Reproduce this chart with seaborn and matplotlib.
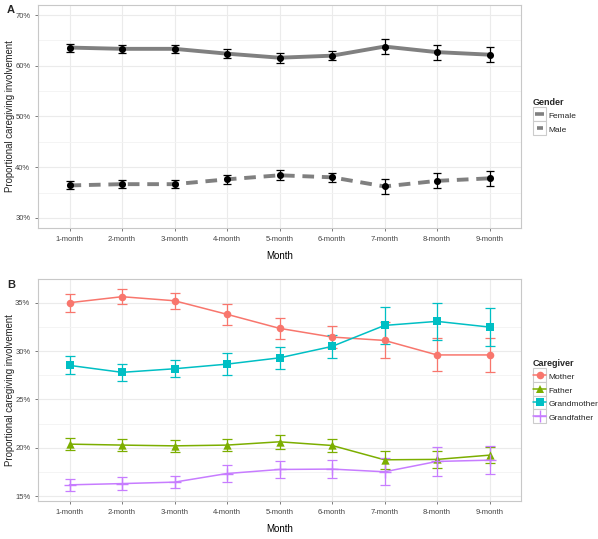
import numpy as np
import pandas as pd
import matplotlib
matplotlib.use("Agg")
import matplotlib.pyplot as plt
import seaborn as sns
from matplotlib.lines import Line2D
from matplotlib.patches import Rectangle
from matplotlib.legend_handler import HandlerLine2D
from matplotlib.ticker import MultipleLocator, FuncFormatter

months = ["1-month", "2-month", "3-month", "4-month", "5-month",
          "6-month", "7-month", "8-month", "9-month"]

female = [63.6, 63.35, 63.35, 62.4, 61.6, 62.0, 63.8, 62.7, 62.2]
female_err = [0.8, 0.85, 0.85, 0.9, 0.95, 0.95, 1.5, 1.5, 1.45]
male = [36.4, 36.65, 36.65, 37.6, 38.4, 38.0, 36.2, 37.3, 37.8]
male_err = [0.8, 0.85, 0.85, 0.9, 0.95, 0.95, 1.5, 1.5, 1.45]

mother = [35.0, 35.62, 35.2, 33.8, 32.35, 31.45, 31.1, 29.6, 29.6]
mother_err = [0.93, 0.8, 0.85, 1.1, 1.07, 1.1, 1.86, 1.7, 1.78]
father = [20.38, 20.28, 20.2, 20.28, 20.62, 20.24, 18.76, 18.8, 19.24]
father_err = [0.6, 0.65, 0.62, 0.65, 0.72, 0.7, 0.93, 0.91, 0.85]
grandmother = [28.52, 27.8, 28.17, 28.65, 29.3, 30.48, 32.65, 33.07, 32.48]
grandmother_err = [0.93, 0.9, 0.9, 1.1, 1.15, 1.17, 1.9, 1.9, 1.93]
grandfather = [16.17, 16.3, 16.45, 17.34, 17.76, 17.8, 17.52, 18.59, 18.72]
grandfather_err = [0.64, 0.64, 0.65, 0.85, 0.85, 0.91, 1.38, 1.48, 1.45]

genders = ["Female", "Male"]
caregivers = ["Mother", "Father", "Grandmother", "Grandfather"]

pos = np.arange(1, len(months) + 1)

dfA = pd.concat([
    pd.DataFrame({"pos": pos, "Month": months, "value": v, "err": e, "Gender": g})
    for g, v, e in zip(genders, [female, male], [female_err, male_err])
], ignore_index=True)

dfB = pd.concat([
    pd.DataFrame({"pos": pos, "Month": months, "value": v, "err": e, "Caregiver": c})
    for c, v, e in zip(caregivers, [mother, father, grandmother, grandfather],
                       [mother_err, father_err, grandmother_err, grandfather_err])
], ignore_index=True)

sns.set_theme(style="white")
plt.rcParams['font.family'] = ['Liberation Sans', 'DejaVu Sans']

fig = plt.figure(figsize=(5.98, 5.39), dpi=100)
W, H = 598, 539

def px_axes(l, t, r, b):
    return fig.add_axes([l / W, 1 - b / H, (r - l) / W, (b - t) / H])

axA = px_axes(38, 5, 521, 228)
axB = px_axes(38, 279, 521, 501)

def style_ax(ax, ylim, major, minor):
    ax.set_facecolor("white")
    ax.set_xlim(0.4, 9.6)
    ax.set_ylim(*ylim)
    ax.set_xticks(pos)
    ax.set_xticklabels(months)
    ax.yaxis.set_major_locator(MultipleLocator(major))
    ax.yaxis.set_minor_locator(MultipleLocator(minor))
    ax.yaxis.set_major_formatter(FuncFormatter(lambda v, p: f"{v:.0f}%"))
    ax.grid(True, which="major", color="#EBEBEB", lw=0.8)
    ax.grid(True, which="minor", axis="y", color="#F3F3F3", lw=0.6)
    ax.set_axisbelow(True)
    for s in ax.spines.values():
        s.set_color("#C8C8C8")
        s.set_linewidth(0.8)
    ax.tick_params(axis="both", which="major", length=2.5, width=0.6,
                   color="#666666", labelsize=5.5, labelcolor="#444444", pad=3,
                   bottom=True, left=True)
    ax.tick_params(axis="y", which="minor", length=0)
    ax.set_xlabel("Month", fontsize=7, color="black", labelpad=6)
    ax.set_ylabel("Proportional caregiving involvement", fontsize=6.9,
                  color="#222222")
    ax.yaxis.set_label_coords(-0.048, 0.5)


class BoxedLineHandler(HandlerLine2D):
    def __init__(self, inset=1.5, box_h=10.0, **kw):
        super().__init__(**kw)
        self.inset = inset
        self.box_h = box_h

    def create_artists(self, legend, orig_handle, xdescent, ydescent,
                       width, height, fontsize, trans):
        yc = (height - ydescent) / 2
        box = Rectangle((-xdescent, yc - self.box_h / 2), width, self.box_h,
                        facecolor="white", edgecolor="#CCCCCC", lw=0.8,
                        transform=trans)
        arts = super().create_artists(legend, orig_handle,
                                      xdescent - self.inset, ydescent,
                                      width - 2 * self.inset, height,
                                      fontsize, trans)
        return [box] + list(arts)

# Panel A
grey = "#808080"
sns.lineplot(data=dfA, x="pos", y="value", style="Gender", color=grey,
             lw=2.8, dashes={"Female": "", "Male": (3, 2)}, ax=axA, legend=False,
             zorder=2)
for g in genders:
    sub = dfA[dfA["Gender"] == g]
    axA.errorbar(sub["pos"], sub["value"], yerr=sub["err"], fmt="none",
                 ecolor="black", elinewidth=0.9, capsize=3.2, capthick=0.9, zorder=3)
sns.scatterplot(data=dfA, x="pos", y="value", color="black", s=26,
                edgecolor="black", linewidth=0, ax=axA, legend=False, zorder=4)
style_ax(axA, (28, 72), 10, 5)

handlesA = [Line2D([], [], color=grey, lw=2.6, ls="-", solid_capstyle="butt"),
            Line2D([], [], color=grey, lw=2.6, ls="-", solid_capstyle="butt")]
hmap = {handlesA[0]: BoxedLineHandler(inset=1.6, box_h=10.1),
        handlesA[1]: BoxedLineHandler(inset=2.7, box_h=10.1)}
legA = fig.legend(handlesA, genders, title="Gender", loc="upper left",
                  bbox_to_anchor=(533 / W, 1 - 98 / H), frameon=False,
                  fontsize=6, title_fontsize=6.5, handlelength=1.6,
                  handleheight=1.55, handletextpad=0.25, labelspacing=0.38,
                  borderaxespad=0, borderpad=0, handler_map=hmap)
legA.get_title().set_fontweight("bold")
legA._legend_box.align = "left"

# Panel B
pal = {"Mother": "#F8766D", "Father": "#7CAE00",
       "Grandmother": "#00BFC4", "Grandfather": "#C77CFF"}
mk = {"Mother": "o", "Father": "^", "Grandmother": "s", "Grandfather": "+"}
msz = {"Mother": 30, "Father": 36, "Grandmother": 28, "Grandfather": 80}
sns.lineplot(data=dfB, x="pos", y="value", hue="Caregiver", palette=pal,
             lw=1.1, ax=axB, legend=False, zorder=2)
for c in caregivers:
    sub = dfB[dfB["Caregiver"] == c]
    axB.errorbar(sub["pos"], sub["value"], yerr=sub["err"], fmt="none",
                 ecolor=pal[c], elinewidth=0.9, capsize=3.9, capthick=0.9, zorder=3)
for c in caregivers:
    sub = dfB[dfB["Caregiver"] == c]
    if c == "Grandfather":
        sns.scatterplot(data=sub, x="pos", y="value", color=pal[c], marker="+",
                        s=msz[c], linewidth=1.0, ax=axB, legend=False, zorder=4)
    else:
        sns.scatterplot(data=sub, x="pos", y="value", color=pal[c],
                        marker=mk[c], s=msz[c], linewidth=0, ax=axB,
                        legend=False, zorder=4)
style_ax(axB, (14.5, 37.45), 5, 2.5)

handlesB = []
for c in caregivers:
    handlesB.append(Line2D([], [], color=pal[c], lw=1.1, marker=mk[c],
                           markersize=np.sqrt(msz[c]),
                           markeredgewidth=1.0 if c == "Grandfather" else 0))
hmapB = {h: BoxedLineHandler(inset=0.0, box_h=10.0, numpoints=1) for h in handlesB}
legB = fig.legend(handlesB, caregivers, title="Caregiver", loc="upper left",
                  bbox_to_anchor=(533 / W, 1 - 359 / H), frameon=False,
                  fontsize=6, title_fontsize=6.5, handlelength=1.6,
                  handleheight=1.6, handletextpad=0.25, labelspacing=0.36,
                  borderaxespad=0, borderpad=0, handler_map=hmapB)
legB.get_title().set_fontweight("bold")
legB._legend_box.align = "left"

fig.text(7 / W, 1 - 10 / H, "A", fontsize=8, fontweight="bold", va="center")
fig.text(7 / W, 1 - 285 / H, "B", fontsize=8, fontweight="bold", va="center")

fig.savefig("out.png", dpi=100, facecolor="white")
